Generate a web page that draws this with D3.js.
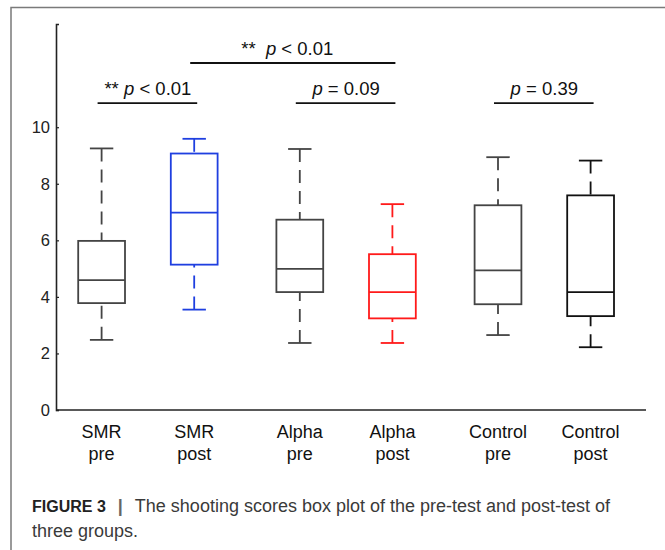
<!DOCTYPE html>
<html>
<head>
<meta charset="utf-8">
<script src="https://cdn.jsdelivr.net/npm/d3@7"></script>
<style>
  html, body { margin: 0; padding: 0; background: #fff; }
  svg { display: block; font-family: "Liberation Sans", Arial, sans-serif; }
</style>
</head>
<body>
<svg id="chart" width="665" height="550"></svg>
<script>
// ---- data ----
const groups = ["SMR", "Alpha", "Control"];
const phases = ["pre", "post"];
const categories = ["SMR pre", "SMR post", "Alpha pre", "Alpha post", "Control pre", "Control post"];
const whiskerLow  = [2.48, 3.55, 2.37, 2.37, 2.65, 2.22];
const q1          = [3.78, 5.14, 4.17, 3.24, 3.74, 3.32];
const median      = [4.59, 6.98, 4.99, 4.17, 4.94, 4.17];
const q3          = [5.98, 9.07, 6.73, 5.51, 7.24, 7.59];
const whiskerHigh = [9.25, 9.59, 9.23, 7.28, 8.94, 8.82];
const boxColors   = ["#444444", "#1f3fe0", "#444444", "#ff1a1a", "#444444", "#111111"];
const yTicks = [0, 2, 4, 6, 8, 10];
const sigFrom   = ["SMR pre", "SMR post", "Alpha pre", "Control pre"];
const sigTo     = ["SMR post", "Alpha post", "Alpha post", "Control post"];
const sigStars  = ["** ", "**  ", "", ""];
const sigText   = [" < 0.01", " < 0.01", " = 0.09", " = 0.39"];
const sigLevel  = [10.85, 12.27, 10.85, 10.85];
const captionBold = "FIGURE 3";
const captionLine1 = "The shooting scores box plot of the pre-test and post-test of";
const captionLine2 = "three groups.";

// ---- layout ----
const svg = d3.select("#chart");
const y = d3.scaleLinear().domain([0, 13.65]).range([410, 24]);
const xGroup = d3.scalePoint().domain(groups).range([48.8, 643.4]).padding(0.5);
const xPhase = d3.scalePoint().domain(phases).range([-46.3, 46.3]);
const cx = c => { const [g, p] = c.split(" "); return xGroup(g) + xPhase(p); };
const boxHalf = 23.4, capHalf = 11.7;

// outer frame
svg.append("path").attr("d", "M11,550 L11,7.5 L665,7.5")
  .attr("fill", "none").attr("stroke", "#7a7a7a").attr("stroke-width", 1.5);

// axes
const yAxis = d3.axisLeft(y).tickValues(yTicks).tickSize(-3).tickPadding(6).tickFormat(d3.format("d"));
const gy = svg.append("g").attr("transform", "translate(56,0)").call(yAxis);
gy.select(".domain").attr("stroke", "#222").attr("stroke-width", 1.6);
gy.selectAll(".tick line").attr("stroke", "#222").attr("stroke-width", 1.2);
gy.selectAll(".tick text").attr("font-size", 16.5).attr("fill", "#222")
  .attr("font-family", "'Liberation Sans', Arial, sans-serif");

svg.append("line").attr("x1", 56).attr("x2", 646).attr("y1", y(0)).attr("y2", y(0))
  .attr("stroke", "#222").attr("stroke-width", 1.6);

// boxes
const data = categories.map((c, i) => ({
  c, lo: whiskerLow[i], q1: q1[i], med: median[i], q3: q3[i], hi: whiskerHigh[i], color: boxColors[i]
}));
const g = svg.append("g").selectAll("g").data(data).join("g");
const sw = 1.8;
// whiskers drawn from cap toward box
g.append("line").attr("x1", d => cx(d.c)).attr("x2", d => cx(d.c))
  .attr("y1", d => y(d.hi)).attr("y2", d => y(d.q3))
  .attr("stroke", d => d.color).attr("stroke-width", sw).attr("stroke-dasharray", "13,8");
g.append("line").attr("x1", d => cx(d.c)).attr("x2", d => cx(d.c))
  .attr("y1", d => y(d.lo)).attr("y2", d => y(d.q1))
  .attr("stroke", d => d.color).attr("stroke-width", sw).attr("stroke-dasharray", "13,8");
// caps
["hi", "lo"].forEach(k => {
  g.append("line").attr("x1", d => cx(d.c) - capHalf).attr("x2", d => cx(d.c) + capHalf)
    .attr("y1", d => y(d[k])).attr("y2", d => y(d[k]))
    .attr("stroke", d => d.color).attr("stroke-width", sw);
});
// box
g.append("rect").attr("x", d => cx(d.c) - boxHalf).attr("width", boxHalf * 2)
  .attr("y", d => y(d.q3)).attr("height", d => y(d.q1) - y(d.q3))
  .attr("fill", "none").attr("stroke", d => d.color).attr("stroke-width", sw);
// median
g.append("line").attr("x1", d => cx(d.c) - boxHalf).attr("x2", d => cx(d.c) + boxHalf)
  .attr("y1", d => y(d.med)).attr("y2", d => y(d.med))
  .attr("stroke", d => d.color).attr("stroke-width", sw);

// category labels
const lab = svg.append("g").selectAll("text").data(categories).join("text")
  .attr("text-anchor", "middle").attr("font-size", 18).attr("fill", "#111");
lab.append("tspan").attr("x", d => cx(d)).attr("y", 438).text(d => d.split(" ")[0]);
lab.append("tspan").attr("x", d => cx(d)).attr("y", 460).text(d => d.split(" ")[1]);

// significance annotations
const sig = sigFrom.map((f, i) => ({ f, t: sigTo[i], stars: sigStars[i], txt: sigText[i], lvl: sigLevel[i] }));
const sg = svg.append("g").selectAll("g").data(sig).join("g");
sg.append("line").attr("x1", d => cx(d.f) - 4).attr("x2", d => cx(d.t) + 3)
  .attr("y1", d => y(d.lvl)).attr("y2", d => y(d.lvl))
  .attr("stroke", "#111").attr("stroke-width", 1.8);
const st = sg.append("text").attr("text-anchor", "middle").attr("font-size", 18.5).attr("fill", "#111")
  .attr("x", d => (cx(d.f) + cx(d.t)) / 2 - (d.stars.length > 3 ? 6 : 0))
  .attr("y", d => y(d.lvl) - 8).attr("xml:space", "preserve");
st.append("tspan").text(d => d.stars).style("white-space", "pre");
st.append("tspan").attr("font-style", "italic").text("p");
st.append("tspan").text(d => d.txt);

// caption
const cap = svg.append("text").attr("x", 32).attr("y", 512).attr("font-size", 18).attr("fill", "#3a3a3a");
cap.append("tspan").attr("font-weight", "bold").attr("font-size", 16).attr("fill", "#222").text(captionBold);
cap.append("tspan").attr("font-weight", "bold").attr("fill", "#666").attr("dx", 12).text("|");
cap.append("tspan").attr("dx", 12).text(captionLine1);
svg.append("text").attr("x", 32).attr("y", 537).attr("font-size", 18).attr("fill", "#3a3a3a").text(captionLine2);
</script>
</body>
</html>
